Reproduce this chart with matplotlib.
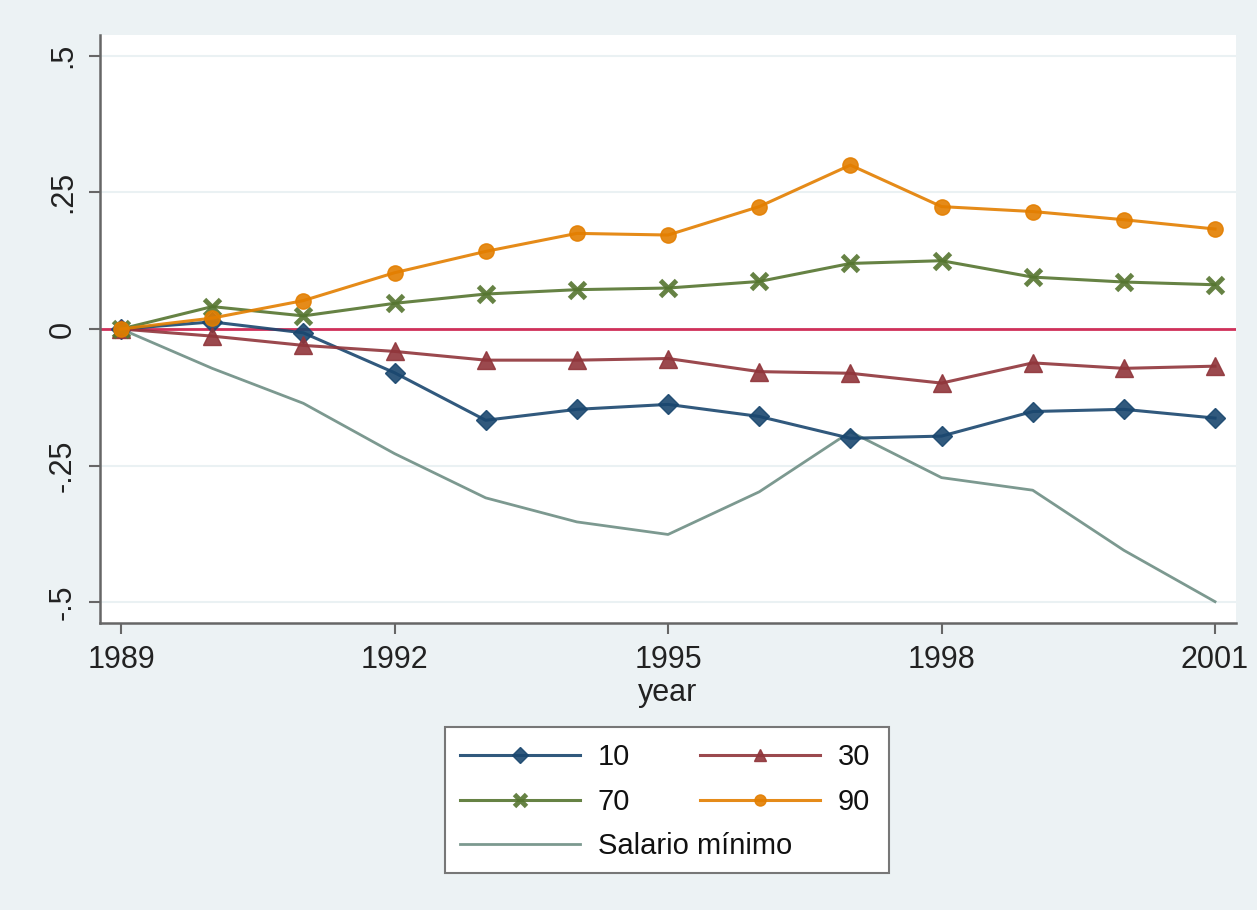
import matplotlib
matplotlib.use("Agg")
import matplotlib.pyplot as plt
from matplotlib.patches import Rectangle

years = [1989, 1990, 1991, 1992, 1993, 1994, 1995, 1996, 1997, 1998, 1999, 2000, 2001]
p10 = [0.0, 0.013, -0.007, -0.080, -0.167, -0.147, -0.138, -0.160, -0.200, -0.196, -0.151, -0.147, -0.163]
p30 = [0.0, -0.013, -0.030, -0.041, -0.057, -0.057, -0.054, -0.078, -0.081, -0.099, -0.062, -0.072, -0.068]
p70 = [0.0, 0.041, 0.024, 0.047, 0.064, 0.072, 0.075, 0.087, 0.120, 0.125, 0.095, 0.086, 0.081]
p90 = [0.0, 0.020, 0.052, 0.103, 0.142, 0.175, 0.172, 0.224, 0.300, 0.224, 0.215, 0.200, 0.183]
salario = [0.0, -0.072, -0.136, -0.228, -0.309, -0.353, -0.376, -0.298, -0.188, -0.272, -0.295, -0.405, -0.499]

yticks = [0.5, 0.25, 0, -0.25, -0.5]
ytick_labels = [".5", ".25", "0", "-.25", "-.5"]
xticks = [1989, 1992, 1995, 1998, 2001]

plt.rcParams['font.family'] = ['Liberation Sans', 'DejaVu Sans']

bg = "#ecf2f4"
fig = plt.figure(figsize=(12.57, 9.10), dpi=100, facecolor=bg)
ax = fig.add_axes([0.0796, 0.3154, 0.9037, 0.6461])
ax.set_facecolor("white")

for y in yticks:
    ax.axhline(y, color="#eaf1f3", lw=1.5, zorder=0)
ax.axhline(0, color="#d0305a", lw=2.0, zorder=1)

c10, c30, c70, c90, cs = "#1a476f", "#90353b", "#55752f", "#e37e00", "#6e8e84"
h10, = ax.plot(years, p10, color=c10, lw=2.2, marker="D", ms=10, label="10", zorder=3, alpha=0.9)
h30, = ax.plot(years, p30, color=c30, lw=2.2, marker="^", ms=13, label="30", zorder=3, alpha=0.9)
h70, = ax.plot(years, p70, color=c70, lw=2.2, marker="x", ms=11, mew=3.5, label="70", zorder=3, alpha=0.9)
h90, = ax.plot(years, p90, color=c90, lw=2.2, marker="o", ms=11, label="90", zorder=3, alpha=0.9)
hs, = ax.plot(years, salario, color=cs, lw=2.0, label="Salario mínimo", zorder=2, alpha=0.9)

ax.set_xlim(1988.77, 2001.23)
ax.set_ylim(-0.538, 0.538)
ax.set_xticks(xticks)
ax.set_xticklabels([str(x) for x in xticks], fontsize=22, color="#222222")
ax.set_yticks(yticks)
ax.set_yticklabels(ytick_labels, fontsize=22, rotation=90, va="center", color="#222222")
ax.tick_params(axis="both", direction="out", length=8, width=1.5, color="#666666", pad=8)
ax.set_xlabel("year", fontsize=22, color="#222222", labelpad=2)

for s in ["top", "right"]:
    ax.spines[s].set_visible(False)
for s in ["left", "bottom"]:
    ax.spines[s].set_color("#666666")
    ax.spines[s].set_linewidth(1.8)

W, H = 1257.0, 910.0
# legend frame
fig.patches.append(Rectangle((445 / W, 1 - 873 / H), 444 / W, 146 / H,
                             transform=fig.transFigure, facecolor="white",
                             edgecolor="#777777", lw=1.5, zorder=1))

fs = 21
common = dict(fontsize=fs, frameon=False, handlelength=4.1, handletextpad=0.62,
              borderpad=0.0, borderaxespad=0.0, loc="upper left")
legA = fig.legend(handles=[h10, h70, h30, h90], ncol=2, columnspacing=2.4,
                  labelspacing=0.58, bbox_to_anchor=(460 / W, 1 - 743 / H), **common)
legB = fig.legend(handles=[hs], bbox_to_anchor=(460 / W, 1 - 832 / H), **common)
for leg in (legA, legB):
    leg.set_zorder(2)
    for h in leg.legend_handles:
        h.set_markersize(8)
    for t in leg.get_texts():
        t.set_color("#111111")

fig.savefig("out.png", dpi=100, facecolor=bg)
